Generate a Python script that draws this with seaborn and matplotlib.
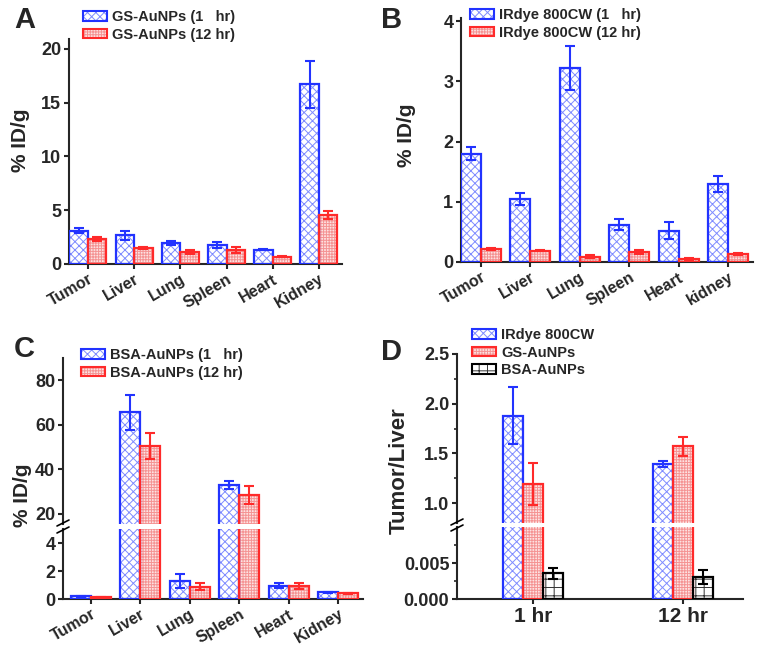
import numpy as np
import pandas as pd
import matplotlib
matplotlib.use('Agg')
import matplotlib.pyplot as plt
import seaborn as sns
from matplotlib.patches import Patch, Rectangle
from matplotlib.lines import Line2D
from matplotlib.ticker import MultipleLocator, FixedLocator, FormatStrFormatter

# Biodistribution data (%ID/g)
organs = ['Tumor', 'Liver', 'Lung', 'Spleen', 'Heart', 'Kidney']
organs_b = ['Tumor', 'Liver', 'Lung', 'Spleen', 'Heart', 'kidney']

gs_1hr = [3.1, 2.65, 1.95, 1.75, 1.32, 16.7]
gs_1hr_err = [0.2, 0.42, 0.2, 0.3, 0.05, 2.2]
gs_12hr = [2.32, 1.48, 1.13, 1.3, 0.67, 4.56]
gs_12hr_err = [0.18, 0.08, 0.17, 0.3, 0.05, 0.37]

ir_1hr = [1.80, 1.04, 3.22, 0.62, 0.52, 1.30]
ir_1hr_err = [0.11, 0.10, 0.37, 0.09, 0.14, 0.13]
ir_12hr = [0.22, 0.19, 0.09, 0.17, 0.055, 0.13]
ir_12hr_err = [0.02, 0.015, 0.03, 0.03, 0.015, 0.02]

bsa_1hr = [0.19, 65.6, 1.27, 32.8, 0.96, 0.48]
bsa_1hr_err = [0.05, 7.7, 0.5, 1.8, 0.17, 0.05]
bsa_12hr = [0.12, 50.4, 0.89, 28.5, 0.93, 0.41]
bsa_12hr_err = [0.03, 5.8, 0.25, 4.0, 0.22, 0.05]

# Tumor/Liver ratio
times = ['1 hr', '12 hr']
ratio_ir = [1.88, 1.39]
ratio_ir_err = [0.29, 0.03]
ratio_gs = [1.19, 1.57]
ratio_gs_err = [0.21, 0.10]
ratio_bsa = [0.00356, 0.00306]
ratio_bsa_err = [0.0008, 0.001]

sns.set_style('ticks')
plt.rcParams['font.family'] = ['Liberation Sans', 'DejaVu Sans']
plt.rcParams['font.weight'] = 'bold'
plt.rcParams['hatch.linewidth'] = 0.7

W, H = 762, 657
fig = plt.figure(figsize=(W / 100, H / 100), dpi=100)

BLUE = '#2233ff'
RED = '#ff2a2a'
# face colour, hatch colour, outline colour, hatch pattern
styles = {
    'blue': dict(face='white', hatchc='#7f8cff', edge=BLUE, hatch='xxxx'),
    'red': dict(face='#fde2e2', hatchc='#f59393', edge=RED, hatch='++++++'),
    'black': dict(face='white', hatchc='#333333', edge='black', hatch='++'),
}


def px_axes(left, top, right, bottom):
    return fig.add_axes([left / W, 1 - bottom / H, (right - left) / W, (bottom - top) / H])


def draw_bars(ax, cats, series, errs, names, keys, width=0.8):
    df = pd.DataFrame({
        'cat': np.tile(cats, len(series)),
        'grp': np.repeat(names, len(cats)),
        'val': np.concatenate(series),
    })
    sns.barplot(data=df, x='cat', y='val', hue='grp', hue_order=names, order=cats,
                errorbar=None, width=width, legend=False, saturation=1,
                palette=['white'] * len(names), ax=ax)
    for cont, err, key in zip(ax.containers, errs, keys):
        st = styles[key]
        xs, ys = [], []
        for p in cont:
            p.set_facecolor(st['face'])
            p.set_edgecolor(st['hatchc'])
            p.set_hatch(st['hatch'])
            p.set_linewidth(0)
            # outline in the series colour on top of the lighter hatch
            ax.add_patch(Rectangle((p.get_x(), p.get_y()), p.get_width(), p.get_height(),
                                   fill=False, edgecolor=st['edge'], linewidth=1.6, zorder=3))
            xs.append(p.get_x() + p.get_width() / 2)
            ys.append(p.get_height())
        ax.errorbar(xs, ys, yerr=err, fmt='none', ecolor=st['edge'],
                    elinewidth=1.5, capsize=3.5, capthick=1.5, zorder=5)
    ax.set_xlabel('')
    ax.set_ylabel('')


def style_axes(ax, ysize=13):
    sns.despine(ax=ax)
    for s in ['left', 'bottom']:
        ax.spines[s].set_linewidth(1.5)
    ax.tick_params(axis='both', direction='out', width=1.5, length=3.5, pad=2)
    ax.tick_params(axis='y', labelsize=ysize)
    ax.tick_params(axis='y', which='minor', direction='out', width=1.2, length=2.5)


def rotate_xlabels(ax, size=11.5):
    for lab in ax.get_xticklabels():
        lab.set_rotation(30)
        lab.set_ha('right')
        lab.set_rotation_mode('anchor')
        lab.set_fontsize(size)
        lab.set_fontweight('bold')


def legend_at(ax, keys, labels, x, y):
    handles = []
    for k in keys:
        st = styles[k]
        fill = Patch(facecolor=st['face'], edgecolor=st['hatchc'], hatch=st['hatch'], linewidth=0)
        outline = Patch(fill=False, edgecolor=st['edge'], linewidth=1.5)
        handles.append((fill, outline))
    ax.legend(handles, labels, loc='upper left', bbox_to_anchor=(x / W, 1 - y / H),
              bbox_transform=fig.transFigure, frameon=False, borderpad=0, borderaxespad=0,
              handlelength=1.65, handleheight=0.65, handletextpad=0.35, labelspacing=0.25,
              prop={'weight': 'bold', 'size': 10.5})


def break_marks(x, y1, y2):
    for y in (y1, y2):
        fig.add_artist(Line2D([(x - 6) / W, (x + 6) / W], [1 - (y + 3) / H, 1 - (y - 3) / H],
                              color='black', lw=1.2, transform=fig.transFigure))


def ylabel_at(text, x, y, size=15):
    fig.text(x / W, 1 - y / H, text, rotation=90, ha='center', va='center',
             fontsize=size, fontweight='bold')


def panel_letter(text, x, y):
    fig.text(x / W, 1 - y / H, text, ha='left', va='baseline', fontsize=21, fontweight='bold')


# ---- Panel A ----
axA = px_axes(69, 39, 342, 264)
draw_bars(axA, organs, [gs_1hr, gs_12hr], [gs_1hr_err, gs_12hr_err],
          ['GS-AuNPs (1   hr)', 'GS-AuNPs (12 hr)'], ['blue', 'red'])
axA.set_ylim(0, 20.9)
axA.set_xlim(-0.41, 5.5)
axA.yaxis.set_major_locator(MultipleLocator(5))
style_axes(axA)
rotate_xlabels(axA)
legend_at(axA, ['blue', 'red'], ['GS-AuNPs (1   hr)', 'GS-AuNPs (12 hr)'], 83, 10)
ylabel_at('% ID/g', 21, 140)
panel_letter('A', 14, 28)

# ---- Panel B ----
axB = px_axes(461, 18, 753, 262)
draw_bars(axB, organs_b, [ir_1hr, ir_12hr], [ir_1hr_err, ir_12hr_err],
          ['IRdye 800CW (1   hr)', 'IRdye 800CW (12 hr)'], ['blue', 'red'])
axB.set_ylim(0, 4.05)
axB.set_xlim(-0.4, 5.5)
axB.yaxis.set_major_locator(MultipleLocator(1))
style_axes(axB)
rotate_xlabels(axB)
legend_at(axB, ['blue', 'red'], ['IRdye 800CW (1   hr)', 'IRdye 800CW (12 hr)'], 470, 8)
ylabel_at('% ID/g', 406, 135)
panel_letter('B', 381, 28)

# ---- Panel C (broken axis) ----
axC_top = px_axes(63, 358, 363, 524)
axC_bot = px_axes(63, 529, 363, 599)
for ax in (axC_top, axC_bot):
    draw_bars(ax, organs, [bsa_1hr, bsa_12hr], [bsa_1hr_err, bsa_12hr_err],
              ['BSA-AuNPs (1   hr)', 'BSA-AuNPs (12 hr)'], ['blue', 'red'])
    ax.set_xlim(-0.56, 5.5)
    style_axes(ax)
axC_top.set_ylim(15.5, 90)
axC_top.yaxis.set_major_locator(MultipleLocator(20))
axC_top.spines['bottom'].set_visible(False)
axC_top.tick_params(axis='x', bottom=False, labelbottom=False)
axC_bot.set_ylim(0, 5)
axC_bot.yaxis.set_major_locator(FixedLocator([0, 2, 4]))
rotate_xlabels(axC_bot)
break_marks(63, 523, 530)
legend_at(axC_top, ['blue', 'red'], ['BSA-AuNPs (1   hr)', 'BSA-AuNPs (12 hr)'], 81, 348)
ylabel_at('% ID/g', 22, 495)
panel_letter('C', 14, 357)

# ---- Panel D (broken axis) ----
axD_top = px_axes(457, 354, 743, 523)
axD_bot = px_axes(457, 527, 743, 599)
for ax in (axD_top, axD_bot):
    draw_bars(ax, times, [ratio_ir, ratio_gs, ratio_bsa],
              [ratio_ir_err, ratio_gs_err, ratio_bsa_err],
              ['IRdye 800CW', 'GS-AuNPs', 'BSA-AuNPs'], ['blue', 'red', 'black'], width=0.4)
    ax.set_xlim(-0.507, 1.4)
    style_axes(ax)
axD_top.set_ylim(0.8, 2.5)
axD_top.yaxis.set_major_locator(FixedLocator([1.0, 1.5, 2.0, 2.5]))
axD_top.yaxis.set_minor_locator(FixedLocator([1.25, 1.75, 2.25]))
axD_top.yaxis.set_major_formatter(FormatStrFormatter('%.1f'))
axD_top.spines['bottom'].set_visible(False)
axD_top.tick_params(axis='x', bottom=False, labelbottom=False)
axD_bot.set_ylim(0, 0.01)
axD_bot.yaxis.set_major_locator(FixedLocator([0, 0.005]))
axD_bot.yaxis.set_minor_locator(FixedLocator([0.0025, 0.0075]))
axD_bot.yaxis.set_major_formatter(FormatStrFormatter('%.3f'))
axD_bot.tick_params(axis='x', labelsize=15)
for lab in axD_bot.get_xticklabels():
    lab.set_fontweight('bold')
break_marks(457, 522, 528)
legend_at(axD_top, ['blue', 'red', 'black'], ['IRdye 800CW', 'GS-AuNPs', 'BSA-AuNPs'], 472, 328)
ylabel_at('Tumor/Liver', 399, 471, size=16)
panel_letter('D', 381, 360)

fig.savefig('out.png', dpi=100)
